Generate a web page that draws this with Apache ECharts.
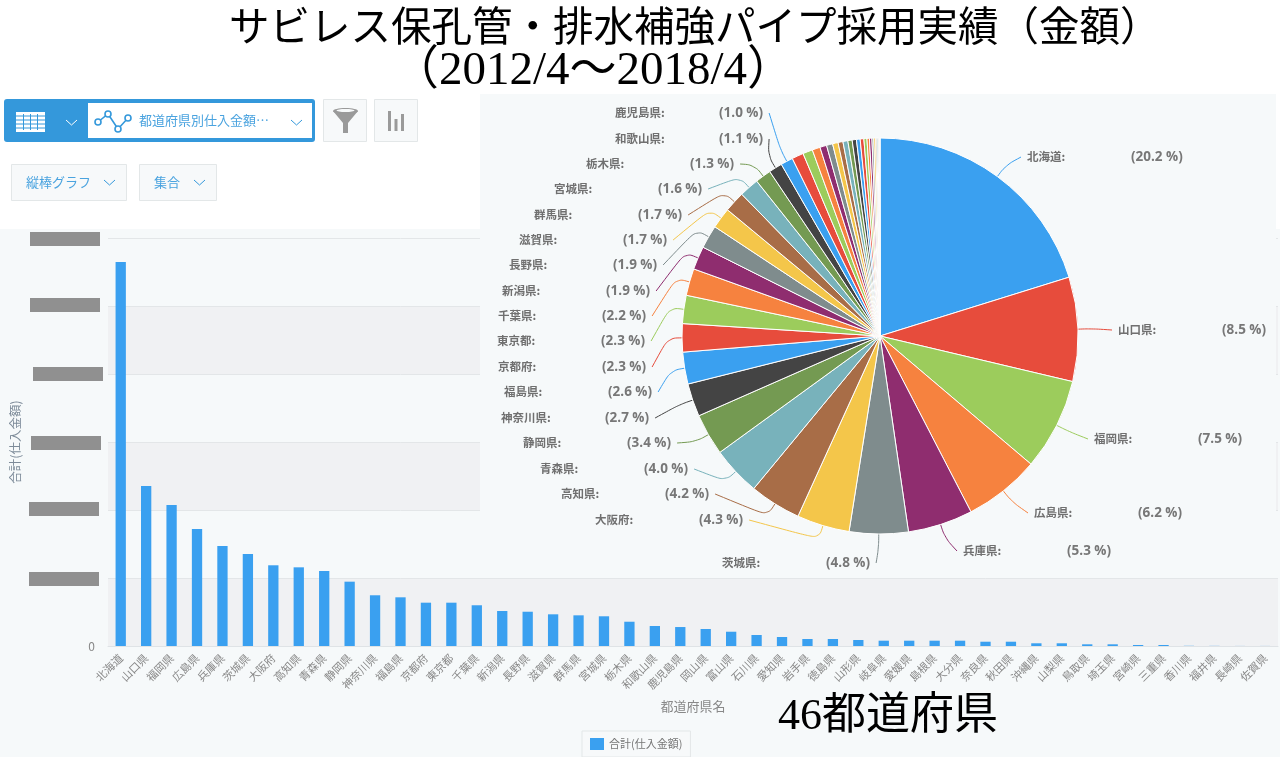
<!DOCTYPE html>
<html lang="ja">
  <head>
    <meta charset="UTF-8" />
    <title>サビレス保孔管・排水補強パイプ採用実績（金額）</title>
    <style>
      html, body { margin: 0; padding: 0; background: #fff; }
      #main { width: 1280px; height: 757px; }
    </style>
  </head>
  <body>
    <div id="main"></div>
    <script src="https://cdn.jsdelivr.net/npm/echarts@6/dist/echarts.min.js"></script>
    <script>
      var prefectures = [
        "北海道", "山口県", "福岡県", "広島県", "兵庫県", "茨城県", "大阪府", "高知県", "青森県", "静岡県",
        "神奈川県", "福島県", "京都府", "東京都", "千葉県", "新潟県", "長野県", "滋賀県", "群馬県", "宮城県",
        "栃木県", "和歌山県", "鹿児島県", "岡山県", "富山県", "石川県", "愛知県", "岩手県", "徳島県", "山形県",
        "岐阜県", "愛媛県", "島根県", "大分県", "奈良県", "秋田県", "沖縄県", "山梨県", "鳥取県", "埼玉県",
        "宮崎県", "三重県", "香川県", "福井県", "長崎県", "佐賀県"
      ];
      // 縦軸の目盛は隠されているので 1目盛=1000 として読み取り
      var barAmounts = [
        5647, 2353, 2074, 1721, 1471, 1353, 1187, 1157, 1103, 946,
        746, 716, 637, 637, 599, 515, 504, 466, 451, 437,
        357, 294, 279, 250, 210, 162, 132, 103, 103, 88,
        78, 78, 78, 78, 63, 63, 40, 40, 25, 25,
        15, 15, 3, 2, 1, 1
      ];
      var pieShares = [
        20.2, 8.5, 7.5, 6.2, 5.3, 4.8, 4.3, 4.2, 4.0, 3.4,
        2.7, 2.6, 2.3, 2.3, 2.2, 1.9, 1.9, 1.7, 1.7, 1.6,
        1.3, 1.1, 1.0, 0.95, 0.8, 0.65, 0.55, 0.5, 0.45, 0.4,
        0.4, 0.35, 0.35, 0.3, 0.3, 0.25, 0.2, 0.2, 0.15, 0.15,
        0.1, 0.1, 0.05, 0.05, 0.03, 0.02
      ];
      var sliceColors = ["#3aa0f0", "#e74c3c", "#9ccc5c", "#f6823f", "#8f2d6f", "#7f8c8d", "#f4c64a", "#a86d47", "#78b2bb", "#749a52", "#444444"];
      // ラベルの左端・中央の位置
      var pieLabelX = [1027, 1118, 1094, 1034, 963, 722, 595, 561, 540, 523, 501, 504, 498, 497, 498, 502, 509, 519, 534, 554, 586, 615, 615];
      var pieLabelY = [157, 330, 439, 513, 551, 563, 520, 494, 469, 443, 418, 392, 367, 341, 316, 291, 265, 240, 215, 189, 164, 139, 113];

      var jpFont = '"Noto Sans CJK JP", "Noto Sans", sans-serif';
      var titleFont = '"Liberation Serif", "Noto Sans CJK JP", serif';
      var pctFont = '"Open Sans", sans-serif';
      var blue = "#3498db";
      var pieCx = 880, pieCy = 336, pieR = 198;
      var nameColumn = 104;

      function box(x, y, w, h, fill, stroke, z, r) {
        return {
          type: "rect",
          z: z,
          shape: { x: x, y: y, width: w, height: h, r: r || 0 },
          style: { fill: fill, stroke: stroke || null, lineWidth: stroke ? 1 : 0 },
        };
      }
      function label(x, y, text, font, color, size, z) {
        return {
          type: "text",
          z: z || 10,
          x: x,
          y: y,
          style: { text: text, fontFamily: font, fontSize: size, fill: color, verticalAlign: "middle" },
        };
      }
      function chevron(x, y, color) {
        return {
          type: "polyline",
          z: 10,
          shape: { points: [[x, y], [x + 5.5, y + 5], [x + 11, y]] },
          style: { stroke: color, fill: null, lineWidth: 1 },
        };
      }
      function lineIconDot(x, y) {
        return {
          type: "circle",
          z: 11,
          shape: { cx: x, cy: y, r: 3 },
          style: { fill: "#fff", stroke: blue, lineWidth: 1.6 },
        };
      }
      function iconLine(x1, y1, x2, y2) {
        return { type: "polyline", z: 8, shape: { points: [[x1, y1], [x2, y2]] }, style: { stroke: blue, lineWidth: 1 } };
      }

      var elements = [
        // 背景
        box(0, 229, 1280, 528, "#f6f9fa", null, -1),
        box(480, 94, 796, 484, "#f6f9fa", null, 1),
        // ツールバー
        box(4, 99, 311, 43, blue, null, 5, 3),
        box(88, 103, 224, 35, "#fff", null, 6),
        box(16, 112, 29, 20, "#fff", null, 7),
        iconLine(16, 116, 45, 116), iconLine(16, 120, 45, 120), iconLine(16, 124, 45, 124), iconLine(16, 128, 45, 128),
        iconLine(23.5, 114, 23.5, 130), iconLine(30.5, 114, 30.5, 130), iconLine(37.5, 114, 37.5, 130),
        chevron(66, 120, "#fff"),
        { type: "polyline", z: 10, shape: { points: [[98, 122], [108, 114], [118, 129], [128, 118]] }, style: { stroke: blue, fill: null, lineWidth: 1.6 } },
        lineIconDot(98, 122), lineIconDot(108, 114), lineIconDot(118, 129), lineIconDot(128, 118),
        label(139, 120, "都道府県別仕入金額…", jpFont, "#4aa3df", 13),
        chevron(291, 120, blue),
        // フィルタ・グラフボタン
        box(323.5, 99.5, 43, 42, "#f7f9fa", "#e3e7e8", 5),
        { type: "polygon", z: 10, shape: { points: [[333, 111], [358, 111], [348, 123], [348, 133], [343, 133], [343, 123]] }, style: { fill: "#9a9a9a" } },
        { type: "ellipse", z: 10, shape: { cx: 345.5, cy: 111, rx: 12.5, ry: 3 }, style: { fill: "#9a9a9a" } },
        { type: "ellipse", z: 11, shape: { cx: 345.5, cy: 110.5, rx: 9, ry: 1.5 }, style: { fill: "#f7f9fa" } },
        box(374.5, 99.5, 43, 42, "#f7f9fa", "#e3e7e8", 5),
        box(388, 111, 3, 20, "#9a9a9a", null, 10),
        box(394.5, 119, 3, 12, "#9a9a9a", null, 10),
        box(401, 114, 3, 17, "#9a9a9a", null, 10),
        box(11.5, 164.5, 115, 36, "#f7f9fa", "#e3e7e8", 5),
        label(26, 182, "縦棒グラフ", jpFont, "#4aa3df", 13),
        chevron(104, 180, blue),
        box(139.5, 164.5, 77, 36, "#f7f9fa", "#e3e7e8", 5),
        label(154, 182, "集合", jpFont, "#4aa3df", 13),
        chevron(194, 180, blue),
        // 縦軸ラベルの塗りつぶし
        box(30, 232, 70, 14, "#909090", null, 6),
        box(30, 298, 70, 14, "#909090", null, 6),
        box(33, 367, 70, 14, "#909090", null, 6),
        box(31, 436, 70, 14, "#909090", null, 6),
        box(29, 502, 70, 14, "#909090", null, 6),
        box(29, 572, 70, 14, "#909090", null, 6),
        // タイトル
        label(229, 30, "サビレス保孔管・排水補強パイプ採用実績（金額）", titleFont, "#000", 40.5),
        label(392, 72, "（2012/4～2018/4）", titleFont, "#000", 47),
        label(778, 717, "46都道府県", titleFont, "#000", 44),
      ];

      function pctText(v) {
        return "(" + v.toFixed(1) + " %)";
      }
      var measure = document.createElement("canvas").getContext("2d");
      measure.font = "bold 13.5px " + pctFont;

      // 引き出し線: 扇の外周 → 少し外側 → ラベルの脇
      function leaderPoints(i) {
        var before = 0, total = 0;
        pieShares.forEach(function (s, k) {
          total += s;
          if (k < i) before += s;
        });
        var a = ((before + pieShares[i] / 2) / total) * Math.PI * 2;
        var sx = Math.sin(a), cy = -Math.cos(a);
        var side = sx >= 0
          ? pieLabelX[i] - 6
          : pieLabelX[i] + nameColumn + measure.measureText(pctText(pieShares[i])).width + 6;
        return [
          [pieCx + pieR * sx, pieCy + pieR * cy],
          [pieCx + (pieR + 14) * sx, pieCy + (pieR + 14) * cy],
          [side, pieLabelY[i]],
        ];
      }

      var myChart = echarts.init(document.getElementById("main"), null, { width: 1280, height: 757 });

      var option = {
        animation: false,
        textStyle: { fontFamily: jpFont },
        graphic: { elements: elements },
        grid: { left: 108, right: 2, top: 238, height: 408, containLabel: false, outerBoundsMode: "none" },
        legend: {
          data: ["合計(仕入金額)"],
          left: 582,
          top: 731,
          padding: [7, 8, 7, 8],
          itemWidth: 14,
          itemHeight: 12,
          itemGap: 4,
          icon: "rect",
          backgroundColor: "#f7f9fa",
          borderColor: "#e3e7e8",
          borderWidth: 1,
          textStyle: { color: "#777", fontSize: 11, fontFamily: jpFont },
        },
        xAxis: {
          type: "category",
          data: prefectures,
          name: "都道府県名",
          nameLocation: "middle",
          nameGap: 54,
          nameTextStyle: { color: "#888", fontSize: 13 },
          axisLine: { lineStyle: { color: "#dfe3e6" } },
          axisTick: { alignWithLabel: false, length: 9, lineStyle: { color: "#c9cfd4" } },
          axisLabel: { interval: 0, rotate: 45, color: "#888", fontSize: 11, margin: 10 },
        },
        yAxis: {
          type: "value",
          min: 0,
          max: 6000,
          interval: 1000,
          name: "合計(仕入金額)",
          nameLocation: "middle",
          nameGap: 86,
          nameTextStyle: { color: "#7d8b99", fontSize: 12.5 },
          axisLine: { show: false },
          axisTick: { show: false },
          axisLabel: {
            color: "#888",
            fontSize: 12,
            margin: 13,
            formatter: function (v) {
              return v === 0 ? "0" : "";
            },
          },
          splitLine: { show: true, lineStyle: { color: "#e3e6e8" } },
          splitArea: { show: true, areaStyle: { color: ["#f0f1f3", "rgba(0,0,0,0)"] } },
        },
        series: [
          {
            name: "合計(仕入金額)",
            type: "bar",
            barWidth: 10.3,
            itemStyle: { color: sliceColors[0] },
            data: barAmounts,
          },
          {
            type: "pie",
            z: 3,
            center: [pieCx, pieCy],
            radius: pieR,
            startAngle: 90,
            clockwise: true,
            minAngle: 0,
            minShowLabelAngle: 3.5,
            color: sliceColors,
            itemStyle: { borderColor: "#fff", borderWidth: 1 },
            label: {
              overflow: "none",
              formatter: function (p) {
                return "{n|" + p.name + ":}{p|" + pctText(p.value) + "}";
              },
              rich: {
                n: { width: nameColumn, color: "#707070", fontSize: 11.5, fontWeight: "bold", fontFamily: jpFont },
                p: { color: "#777", fontSize: 13.5, fontWeight: "bold", fontFamily: pctFont },
              },
            },
            labelLine: { show: true, smooth: 0.4, lineStyle: { width: 1 } },
            labelLayout: function (params) {
              var i = params.dataIndex;
              if (i >= pieLabelX.length) return {};
              return {
                x: pieLabelX[i],
                y: pieLabelY[i],
                align: "left",
                verticalAlign: "middle",
                labelLinePoints: leaderPoints(i),
              };
            },
            data: prefectures.map(function (name, i) {
              return { name: name, value: pieShares[i] };
            }),
          },
        ],
      };

      myChart.setOption(option);
    </script>
  </body>
</html>
